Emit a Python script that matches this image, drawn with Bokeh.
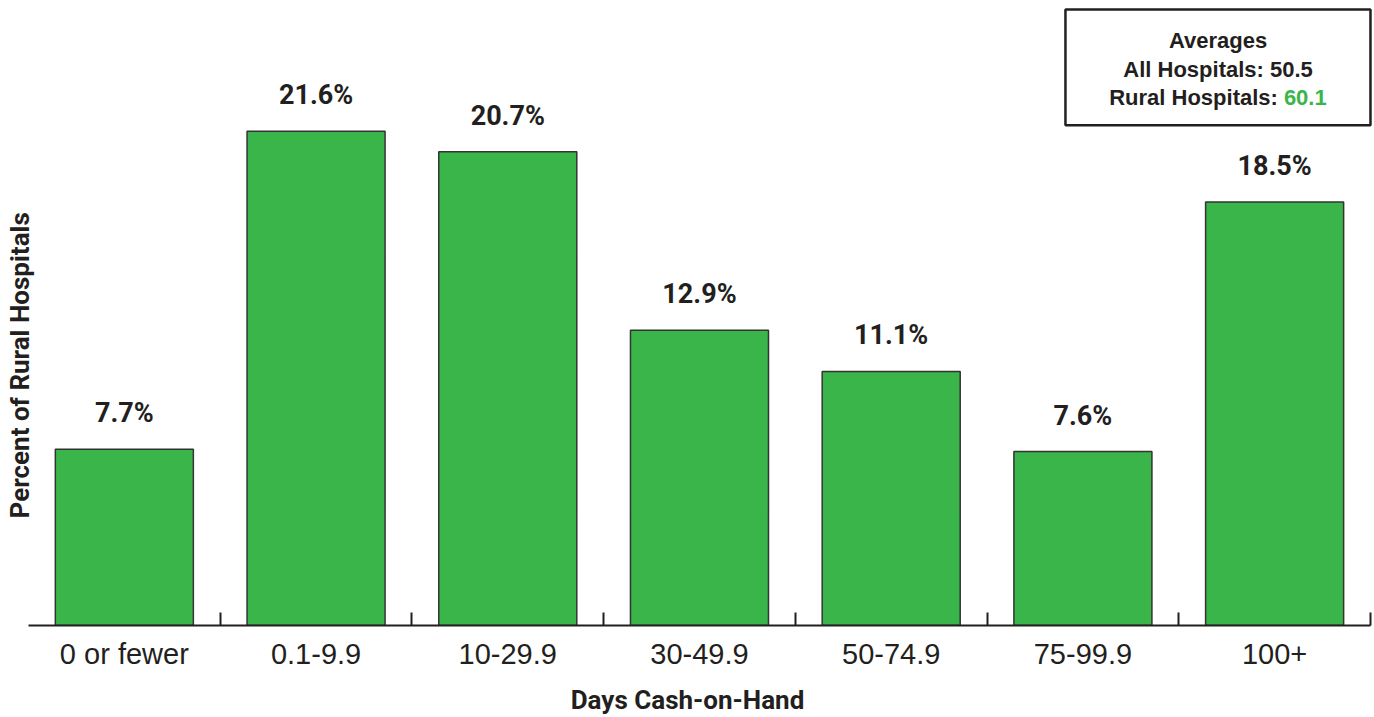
import math
from bokeh.plotting import figure
from bokeh.models import Range1d, FixedTicker, Label, BoxAnnotation, ColumnDataSource
from bokeh.embed import file_html
from bokeh.resources import INLINE
from bokeh.core.properties import value

# ---- data ----
categories = ["0 or fewer", "0.1-9.9", "10-29.9", "30-49.9", "50-74.9", "75-99.9", "100+"]
percent_rural = [7.7, 21.6, 20.7, 12.9, 11.1, 7.6, 18.5]
bar_labels = [f"{v:.1f}%" for v in percent_rural]
avg_all = 50.5
avg_rural = 60.1

GREEN = "#3ab54a"
INK = "#231f20"
COND = "Roboto"
REG = "Liberation Sans"

W, H = 1374, 717
p = figure(width=W, height=H, output_backend="svg", toolbar_location=None,
           x_range=Range1d(-0.146, 7.021), y_range=Range1d(0, 27.31),
           y_axis_location=None,
           min_border_left=0, min_border_right=0, min_border_top=0, min_border_bottom=91)
p.outline_line_color = None
p.grid.visible = False
p.background_fill_color = "white"

xs = [i + 0.5 for i in range(len(categories))]
src = ColumnDataSource(dict(x=xs, top=percent_rural, label=bar_labels))
p.vbar(x="x", top="top", bottom=0, width=0.72, source=src,
       fill_color=GREEN, line_color="#333333", line_width=1.5)
p.text(x="x", y="top", text="label", source=src, text_align="center",
       text_baseline="alphabetic", y_offset=-36,
       text_font=value(COND), text_font_style="bold", text_font_size="27px",
       text_color=INK)

xa = p.xaxis[0]
xa.ticker = FixedTicker(ticks=xs, minor_ticks=list(range(1, len(categories) + 1)))
xa.major_label_overrides = {x: c for x, c in zip(xs, categories)}
xa.bounds = (0, len(categories))
xa.major_tick_in = 0
xa.major_tick_out = 0
xa.major_tick_line_color = None
xa.minor_tick_in = 13
xa.minor_tick_out = 0
xa.minor_tick_line_width = 2
xa.minor_tick_line_color = INK
xa.axis_line_width = 2
xa.axis_line_color = INK
xa.major_label_text_font = REG
xa.major_label_text_font_size = "29px"
xa.major_label_text_color = INK
xa.major_label_standoff = 12
xa.axis_label = "Days Cash-on-Hand"
xa.axis_label_text_font = COND
xa.axis_label_text_font_style = "bold"
xa.axis_label_text_font_size = "26px"
xa.axis_label_text_color = INK
xa.axis_label_standoff = 12

p.add_layout(Label(x=-0.042, y=11.37, text="Percent of Rural Hospitals",
                   angle=math.pi / 2, text_align="center", text_baseline="middle",
                   text_font=COND, text_font_style="bold", text_font_size="26px",
                   text_color=INK))

# averages box
p.add_layout(BoxAnnotation(left=5.409, right=7.0, bottom=21.86, top=26.92,
                           fill_color="white", fill_alpha=1.0,
                           line_color=INK, line_width=2.5, line_alpha=1.0))
box_cx = 6.205
common = dict(text_font=REG, text_font_style="bold", text_font_size="22px",
              text_color=INK, text_baseline="alphabetic")
p.add_layout(Label(x=box_cx, y=25.565, text="Averages", text_align="center", **common))
p.add_layout(Label(x=box_cx, y=24.30, text=f"All Hospitals: {avg_all}", text_align="center", **common))
p.add_layout(Label(x=6.517, y=23.08, text="Rural Hospitals:", text_align="right", **common))
common_g = dict(common)
common_g["text_color"] = GREEN
p.add_layout(Label(x=6.517, y=23.08, x_offset=6, text=f"{avg_rural}", text_align="left", **common_g))

open("out.html", "w").write(file_html(p, INLINE))
